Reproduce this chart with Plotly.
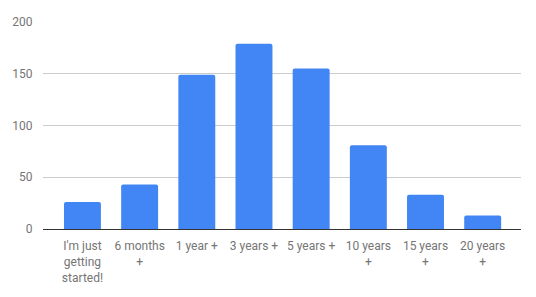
import plotly.graph_objects as go

categories = [
    "I'm just<br>getting<br>started!",
    "6 months<br>+",
    "1 year +",
    "3 years +",
    "5 years +",
    "10 years<br>+",
    "15 years<br>+",
    "20 years<br>+",
]
counts = [26, 43, 149, 179, 155, 81, 33, 13]
y_ticks = [0, 50, 100, 150, 200]

fig = go.Figure(
    go.Bar(
        x=categories,
        y=counts,
        marker=dict(color="#4285F4", line=dict(width=0)),
        hoverinfo="x+y",
    )
)

label_font = dict(family="Roboto, Arial, sans-serif", size=12, color="#757575")

fig.update_layout(
    width=536,
    height=297,
    margin=dict(l=42, r=15, t=22, b=66),
    paper_bgcolor="white",
    plot_bgcolor="white",
    bargap=0.354,
    barcornerradius=2,
    showlegend=False,
    font=label_font,
    xaxis=dict(
        range=[-0.69, 7.67],
        showgrid=False,
        showline=True,
        linecolor="#333333",
        linewidth=1,
        ticks="outside",
        ticklen=6,
        tickcolor="rgba(0,0,0,0)",
        tickfont=label_font,
        fixedrange=True,
    ),
    yaxis=dict(
        range=[0, 200],
        tickvals=y_ticks,
        showgrid=True,
        gridcolor="#cccccc",
        gridwidth=1,
        zeroline=False,
        showline=False,
        ticks="outside",
        ticklen=7,
        tickcolor="rgba(0,0,0,0)",
        tickfont=label_font,
        fixedrange=True,
    ),
)

fig.write_html("out.html")
